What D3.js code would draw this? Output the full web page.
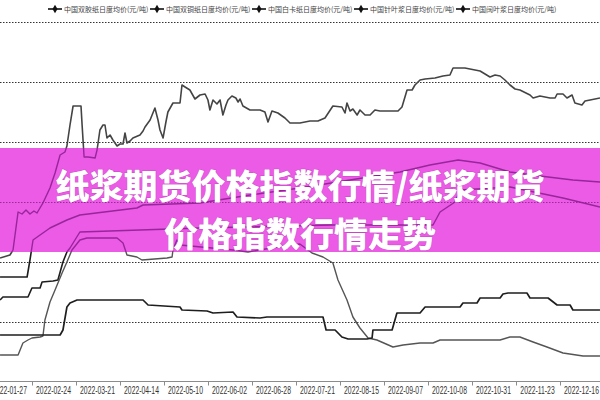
<!DOCTYPE html>
<html><head><meta charset="utf-8">
<script src="https://cdn.jsdelivr.net/npm/d3@7"></script>
<style>body{margin:0;background:#fff}svg{display:block}</style>
</head><body><svg id="c" width="600" height="400"></svg>
<script>
// ---------- data ----------
const seriesNames = ["中国双胶纸日度均价(元/吨)","中国双铜纸日度均价(元/吨)","中国白卡纸日度均价(元/吨)","中国针叶浆日度均价(元/吨)","中国阔叶浆日度均价(元/吨)"];
const tickLabels = ["2022-01-27","2022-02-24","2022-03-21","2022-04-14","2022-05-10","2022-06-02","2022-06-28","2022-07-21","2022-08-15","2022-09-07","2022-10-08","2022-10-31","2022-11-23","2022-12-16"];
const tickLabelIdx = [5,25,45,65,85,105,125,145,165,185,205,225,245,265];
const tickMarkIdx = [15,35,55,75,95,115,135,155,175,195,215,235,255];
const gridValues = [4600,5200,5800,6400,7000,7600];

// 双胶纸
const s1Idx = [0.7,13.0,14.3,15.7,18.9,23.4,31.1,37.0,62.9,65.7,91.6,114.3,137.0,159.8,182.5,196.1,208.9,218.9,232.5,246.1,261.1,273.4];
const s1Val = [5050,5050,5220,5420,5470,5540,5620,5670,5740,5770,5790,5870,5940,6020,6100,6170,6220,6190,6100,6060,6020,6000];
// 双铜纸
const s2Idx = [0.7,2.0,13.4,15.2,18.9,19.8,24.8,27.0,29.3,31.1,32.5,37.0,91.6,152.0,197.5,200.7,207.5,209.8,232.5,256.6,273.4];
const s2Val = [4820,4850,4850,4940,4940,5000,5010,5020,5200,5300,5340,5500,5540,5570,5570,5700,5800,5920,5950,5840,5750];
// 白卡纸
const s3Idx = [0.7,8.9,11.1,13.4,15.2,18.9,20.2,21.1,23.4,25.7,28.9,31.1,33.4,37.0,40.2,53.9,56.6,58.4,62.9,65.2,76.6,78.9,79.3,81.1,82.5,106.6,113.4,126.6,137.0,142.5,147.5,152.0,154.3,158.4,161.1,164.3,168.0,172.0,179.3,183.9,191.6,197.5,200.7,213.0,228.0,232.5,237.0,243.0,249.3,256.6,265.7,273.4];
const s3Val = [4270,4270,4390,4420,4440,4450,4460,4620,4800,4920,5090,5200,5320,5420,5440,5440,5390,5270,5250,5220,5240,5250,5320,5420,5370,5320,5300,5350,5380,5290,5250,5190,5020,4820,4650,4540,4440,4420,4350,4370,4390,4390,4420,4420,4420,4450,4450,4400,4350,4290,4260,4260];
// 针叶浆
const s4Idx = [0.7,5.2,6.6,8.9,10.7,12.5,14.3,16.1,17.5,20.2,23.4,25.7,28.0,30.2,31.1,32.5,33.9,37.5,38.0,38.9,40.7,43.9,44.8,46.1,47.5,48.4,49.3,50.7,52.0,53.9,55.2,56.6,57.5,58.4,59.8,61.1,64.3,65.7,66.6,68.9,71.1,72.5,73.4,74.8,76.1,77.0,79.3,82.5,83.4,84.8,87.0,89.3,91.6,93.9,95.2,96.1,97.5,99.3,100.7,102.0,103.4,104.3,106.1,107.9,108.9,109.8,111.1,114.3,118.9,121.1,122.5,124.3,127.0,130.2,132.5,137.0,141.6,145.2,148.4,152.0,156.1,157.5,158.4,159.8,161.1,163.0,164.3,166.6,168.9,171.1,173.4,181.6,183.4,185.7,188.0,189.3,191.6,193.9,198.4,202.0,205.2,206.6,212.0,216.6,218.9,223.4,225.7,228.0,230.2,232.5,234.8,237.0,241.6,243.0,246.1,250.7,253.0,253.9,256.6,258.4,260.7,262.0,265.2,266.6,268.9,273.4];
const s4Val = [5240,5270,5320,5700,5680,5720,5680,5710,5690,5790,5940,6090,6270,6300,6360,6570,6760,6760,6570,6250,6250,6240,6320,6520,6570,6570,6440,6470,6420,6360,6380,6380,6490,6390,6410,6440,6470,6510,6550,6620,6740,6620,6520,6440,6600,6700,6790,6790,6970,6950,6920,6830,6870,6880,6820,6720,6820,6780,6820,6670,6770,6820,6860,6840,6800,6830,6760,6720,6720,6700,6600,6710,6690,6640,6590,6590,6610,6610,6640,6760,6750,6690,6790,6710,6730,6670,6720,6670,6670,6720,6710,6710,6750,6920,6920,6970,7020,7030,7040,7060,7070,7140,7140,7120,7110,7050,7070,7060,7020,6970,6930,6920,6870,6840,6860,6840,6840,6880,6880,6840,6870,6790,6770,6810,6820,6840];
// 阔叶浆
const s5Idx = [0.7,28.0,29.3,31.1,32.5,35.7,65.7,68.0,82.5,83.4,94.8,97.5,106.6,108.4,118.9,122.0,137.0,147.5,148.9,153.0,156.1,158.9,167.5,169.8,170.2,178.9,181.1,191.6,193.9,209.8,211.1,217.5,218.9,228.0,229.3,231.6,240.2,241.6,249.8,253.9,259.8,261.1,273.4];
const s5Val = [4470,4470,4520,4750,4790,4820,4820,4770,4750,4720,4710,4690,4700,4650,4640,4650,4650,4650,4520,4520,4450,4430,4430,4440,4520,4520,4690,4690,4750,4750,4790,4790,4840,4840,4880,4890,4890,4840,4840,4770,4770,4720,4720];

const titleLines = ["纸浆期货价格指数行情/纸浆期货","价格指数行情走势"];

// ---------- chart ----------
const svg = d3.select("#c");
const W = 600, H = 400;
const x = d3.scaleLinear().domain([5,265]).range([9.5,581.5]);
const y = d3.scaleLinear().domain([4000,7600]).range([382,22]);

const series = [
  {name: seriesNames[0], idx: s1Idx, val: s1Val, color:"#1e1e1e", w:1.6},
  {name: seriesNames[1], idx: s2Idx, val: s2Val, color:"#1e1e1e", w:1.6},
  {name: seriesNames[2], idx: s3Idx, val: s3Val, color:"#555555", w:1.4},
  {name: seriesNames[3], idx: s4Idx, val: s4Val, color:"#444444", w:1.6},
  {name: seriesNames[4], idx: s5Idx, val: s5Val, color:"#1e1e1e", w:1.7}
];
series.forEach(s => s.pts = s.idx.map((d,i)=>({i:d, v:s.val[i]})));

const line = d3.line().x(d=>x(d.i)).y(d=>y(d.v));

// gridlines
const grid = svg.append("g").attr("class","grid");
function drawGrid(g, col){
  g.selectAll("line").data(gridValues).join("line")
    .attr("x1",0).attr("x2",W)
    .attr("y1",d=>Math.round(y(d))+0.5).attr("y2",d=>Math.round(y(d))+0.5)
    .attr("stroke",col).attr("stroke-width",1).attr("stroke-dasharray","1.5,1.5");
}
drawGrid(grid,"#333");

// x axis
const xAxis = svg.append("g").attr("transform","translate(0,381.5)");
xAxis.append("line").attr("x1",0).attr("x2",W).attr("stroke","#8c8c8c").attr("stroke-width",1);
xAxis.selectAll("line.tk").data(tickMarkIdx).join("line").attr("class","tk")
  .attr("x1",d=>Math.round(x(d))+0.5).attr("x2",d=>Math.round(x(d))+0.5)
  .attr("y1",0).attr("y2",4).attr("stroke","#8c8c8c");
xAxis.selectAll("text").data(tickLabels).join("text")
  .attr("transform",(d,i)=>`translate(${x(tickLabelIdx[i])},12.5) scale(0.62,1)`)
  .attr("text-anchor","middle")
  .attr("font-family","Liberation Sans, Arial, sans-serif")
  .attr("font-size",11).attr("fill","#333")
  .text(d=>d);

// lines
const linesG = svg.append("g");
linesG.selectAll("path").data(series).join("path")
  .attr("d",d=>line(d.pts)).attr("fill","none")
  .attr("stroke",d=>d.color).attr("stroke-width",d=>d.w)
  .attr("stroke-linejoin","round");

// legend
const legend = svg.append("g");
series.forEach((s,k)=>{
  const cx = 55 + k*102;
  const g = legend.append("g").attr("transform",`translate(${cx},9)`);
  g.append("line").attr("x1",-7).attr("x2",7).attr("stroke","#111").attr("stroke-width",1.6);
  g.append("path").attr("d",d3.symbol().type(d3.symbolDiamond).size(22)()).attr("fill","#111");
  g.append("text").attr("x",9).attr("y",2.5)
    .attr("font-family","Noto Sans CJK SC, sans-serif").attr("font-size",7)
    .attr("fill","#444").text(s.name);
});

// magenta band overlay
const bandTop = 148, bandH = 104;
svg.append("defs").append("clipPath").attr("id","bandClip")
  .append("rect").attr("x",0).attr("y",bandTop).attr("width",W).attr("height",bandH);
svg.append("rect").attr("x",0).attr("y",bandTop).attr("width",W).attr("height",bandH).attr("fill","#EB5BE6");
const inBand = svg.append("g").attr("clip-path","url(#bandClip)");
drawGrid(inBand.append("g"),"#9a2a98");
inBand.selectAll("path").data(series).join("path")
  .attr("d",d=>line(d.pts)).attr("fill","none")
  .attr("stroke","#8e1f92").attr("stroke-width",1.4).attr("stroke-opacity",0.9)
  .attr("stroke-linejoin","round");

// title text
const tg = svg.append("g").attr("font-family","Noto Sans CJK SC, sans-serif")
  .attr("font-weight",900).attr("font-size",34).attr("text-anchor","middle");
tg.selectAll("text").data(titleLines).join("text")
  .attr("x",300).attr("y",(d,i)=>199+i*48)
  .attr("fill","#fff").attr("stroke","rgba(110,0,110,0.25)").attr("stroke-width",1)
  .attr("paint-order","stroke")
  .text(d=>d);
</script></body></html>
